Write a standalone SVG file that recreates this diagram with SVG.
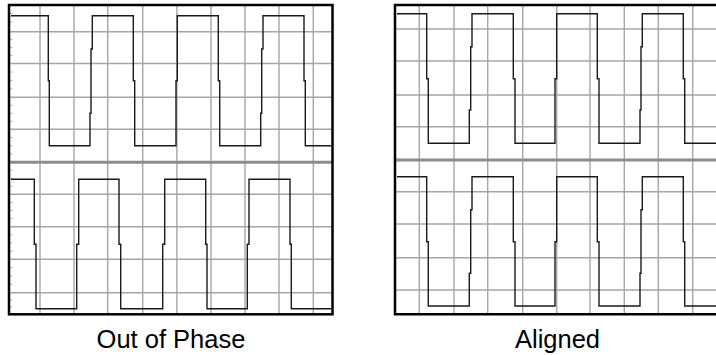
<svg xmlns="http://www.w3.org/2000/svg" width="716" height="355" viewBox="0 0 716 355">
<style>
.grid{stroke:#a6a6a6;stroke-width:1.4;fill:none}
.mid{stroke:#8c8c8c;stroke-width:3;fill:none}
.frame{stroke:#000;stroke-width:2.5;fill:none}
.tick{stroke:#b0b0b0;stroke-width:1;fill:none}
.trace{stroke:#1a1a1a;stroke-width:1.4;fill:none}
.lbl{font-family:"Liberation Sans",Arial,sans-serif;font-size:25.5px;fill:#000;text-anchor:middle}
</style>
<rect width="716" height="355" fill="#fff"/>
<g id="panel-out-of-phase">
<path class="grid" d="M40 5V314M74 5V314M107.7 5V314M142.7 5V314M176.9 5V314M211 5V314M245 5V314M279 5V314M313.3 5V314"/>
<path class="grid" d="M9 31.7H333M9 63.5H333M9 97.3H333M9 129.3H333M9 194.3H333M9 226.7H333M9 259.3H333M9 292.7H333"/>
<path class="tick" d="M10 13.5H12.5M10 22H12.5M10 39.6H12.5M10 47.6H12.5M10 55.5H12.5M10 72H12.5M10 80.4H12.5M10 88.8H12.5M10 105.3H12.5M10 113.3H12.5M10 121.3H12.5M10 137.5H12.5M10 145.8H12.5M10 154H12.5M10 170.3H12.5M10 178.3H12.5M10 186.3H12.5M10 202.4H12.5M10 210.5H12.5M10 218.6H12.5M10 234.9H12.5M10 243H12.5M10 251.2H12.5M10 267.6H12.5M10 276H12.5M10 284.3H12.5M10 300H12.5M10 307H12.5"/>
<path class="mid" d="M10 162.3H332"/>
<path class="trace" d="M11 15.7H48.3V80.7H49.3V145.7H90V113.3H91V49H92.3V15.7H133.3V80.7H134.7V145.7H176V80.7H177.3V15.7H218.3V80.7H219.7V145.7H260.7V113.3H261.7V49H263V15.7H304V80.7H305.3V145.7H331"/>
<path class="trace" d="M11 179.3H34.3V244.3H36V308.7H76.7V244.3H78.7V179.3H119V244.3H120.7V308.7H162.7V244.3H164.7V179.3H205.7V244.3H207V308.7H247.3V244.3H249V179.3H290V244.3H291.3V308.7H331"/>
<rect class="frame" x="9" y="5" width="323.5" height="309.3"/>
<text class="lbl" x="171" y="348">Out of Phase</text>
</g>
<g id="panel-aligned">
<path class="grid" d="M419.3 5V314M454 5V314M487.7 5V314M522.7 5V314M556.7 5V314M590 5V314M624.3 5V314M658.3 5V314M692.7 5V314"/>
<path class="grid" d="M395 29H716M395 61H716M395 95H716M395 126.7H716M395 191.7H716M395 224H716M395 257.7H716M395 290H716"/>
<path class="mid" d="M396 160H716"/>
<path class="trace" d="M397 13.7H426.7V78.7H428.3V143.3H469.3V110H470.7V46.7H472V13.7H513.3V78.7H515V143.3H555V78.7H556.7V13.7H597.3V78.7H599V143.3H640V110H641V46.7H642.3V13.7H683.3V78.7H684.7V143.3H716"/>
<path class="trace" d="M397 176.7H426.7V241.7H428.3V306H469.3V273.3H470.7V209.7H472V176.7H513.3V241.7H515V306H555V241.7H556.7V176.7H597.3V241.7H599V306H640V273.3H641V209.7H642.3V176.7H683.3V241.7H684.7V306H716"/>
<path class="frame" d="M716 5H395V314.3H716"/>
<text class="lbl" x="557.5" y="348">Aligned</text>
</g>
</svg>
